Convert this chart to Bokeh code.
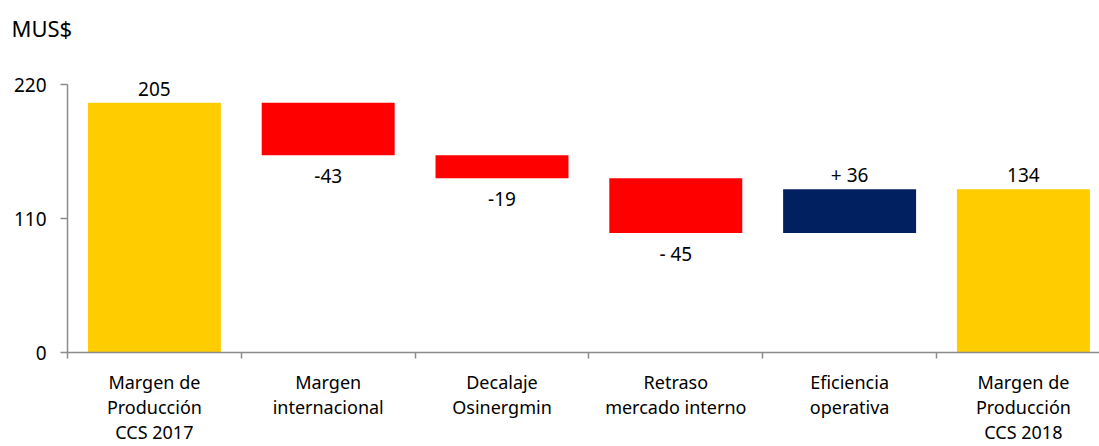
from bokeh.plotting import figure
from bokeh.models import FixedTicker, Range1d, ColumnDataSource
from bokeh.core.properties import value
from bokeh.embed import file_html
from bokeh.resources import INLINE

# ---- data ----
categories = ["Margen de\nProducción\nCCS 2017", "Margen\ninternacional", "Decalaje\nOsinergmin",
              "Retraso\nmercado interno", "Eficiencia\noperativa", "Margen de\nProducción\nCCS 2018"]
values = [205, -43, -19, -45, 36, 134]
is_total = [True, False, False, False, False, True]
bar_labels = ["205", "-43", "-19", "- 45", "+ 36", "134"]
y_ticks = [0, 110, 220]
unit_label = "MUS$"

FONT = "Noto Sans"
YELLOW = "#FFCC00"
RED = "#FF0000"
NAVY = "#002060"
AXIS = "#8c8c8c"
TXT = "#000000"

Y_AXIS_MAX = 220
PPU = 268 / Y_AXIS_MAX          # pixels per unit
TOP_BORDER = 50
FRAME_BOTTOM = 352
Y_TOP = (FRAME_BOTTOM - TOP_BORDER) / PPU

xs, bottoms, tops, colors, ly = [], [], [], [], []
running = 0
for i, (v, t) in enumerate(zip(values, is_total)):
    x = i + 0.5
    if t:
        b, tp = 0, v
        running = v
        c = YELLOW
    else:
        b, tp = sorted([running, running + v])
        running += v
        c = RED if v < 0 else NAVY
    xs.append(x); bottoms.append(b); tops.append(tp); colors.append(c)
    if (not t) and v < 0:
        ly.append(b - 21 / PPU)
    else:
        ly.append(tp + 14 / PPU)

src = ColumnDataSource(dict(x=xs, bottom=bottoms, top=tops, color=colors, ly=ly, lab=bar_labels))

W, H = 1099, 446
p = figure(width=W, height=H, output_backend="svg", toolbar_location=None,
           x_range=Range1d(0, (W - 67) / 173.8), y_range=Range1d(0, Y_TOP),
           min_border_left=67, min_border_right=0, min_border_top=TOP_BORDER,
           min_border_bottom=H - FRAME_BOTTOM)
p.outline_line_color = None
p.xgrid.grid_line_color = None
p.ygrid.grid_line_color = None
p.background_fill_color = "white"

p.title.text = unit_label
p.title.align = "left"
p.title.offset = -56
p.title.text_font = FONT
p.title.text_font_size = "22px"
p.title.text_font_style = "normal"
p.title.text_color = TXT
p.title.standoff = 16

p.vbar(x="x", bottom="bottom", top="top", width=0.765, color="color", line_color=None, source=src)
p.text(x="x", y="ly", text="lab", source=src, text_align="center", text_baseline="middle",
       text_font=value(FONT), text_font_size="19px", text_color=TXT)

# y axis
ya = p.yaxis[0]
ya.ticker = FixedTicker(ticks=y_ticks)
ya.bounds = (0, Y_AXIS_MAX)
ya.axis_line_color = AXIS
ya.axis_line_width = 1.5
ya.major_tick_line_color = AXIS
ya.major_tick_line_width = 1.5
ya.major_tick_out = 7
ya.major_tick_in = 0
ya.minor_tick_line_color = None
ya.major_label_standoff = 14
ya.major_label_text_font = FONT
ya.major_label_text_font_size = "19px"
ya.major_label_text_color = TXT

# x axis: labels at band centers, ticks at band boundaries
xa = p.xaxis[0]
centers = [i + 0.5 for i in range(len(categories))]
xa.ticker = FixedTicker(ticks=centers, minor_ticks=list(range(len(categories) + 1)))
xa.major_label_overrides = {c: lab for c, lab in zip(centers, categories)}
xa.axis_line_color = AXIS
xa.axis_line_width = 1.5
xa.major_tick_line_color = None
xa.major_tick_out = 0
xa.major_tick_in = 0
xa.minor_tick_line_color = AXIS
xa.minor_tick_line_width = 1.5
xa.minor_tick_out = 6
xa.minor_tick_in = 0
xa.major_label_standoff = 11
xa.major_label_text_font = FONT
xa.major_label_text_font_size = "18px"
xa.major_label_text_color = TXT
xa.major_label_text_line_height = 1.05

open("out.html", "w").write(file_html(p, INLINE))
